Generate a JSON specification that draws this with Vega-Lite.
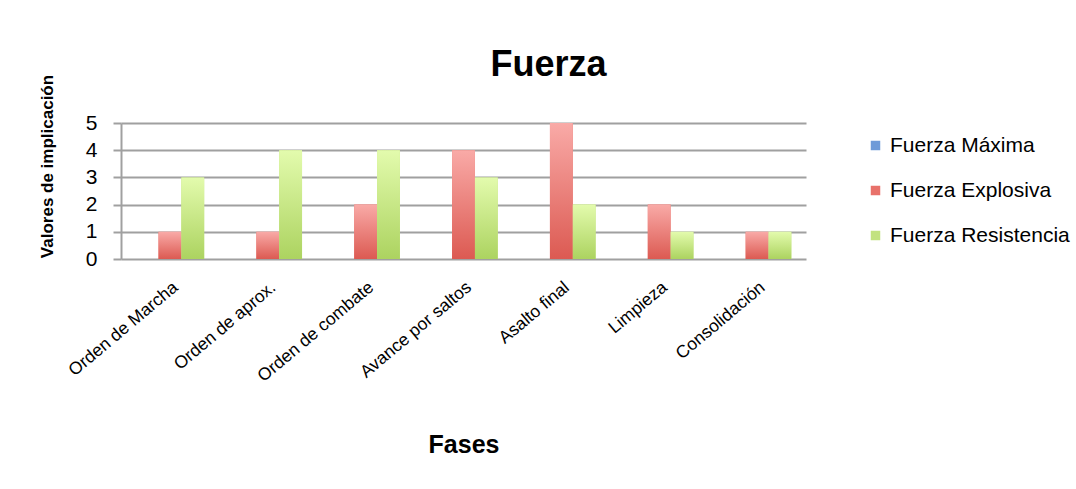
{
  "$schema": "https://vega.github.io/schema/vega-lite/v6.json",
  "autosize": "none",
  "width": 685,
  "height": 136,
  "padding": {"left": 121, "top": 123, "right": 270, "bottom": 230},
  "background": "white",
  "title": {
    "text": "Fuerza",
    "font": "Liberation Sans",
    "fontSize": 36,
    "fontWeight": "bold",
    "color": "black",
    "anchor": "middle",
    "dx": 85,
    "dy": 32,
    "offset": 22
  },
  "data": {
    "values": [
      {"fase": "Orden de Marcha", "serie": "Fuerza Máxima", "valor": 0},
      {"fase": "Orden de Marcha", "serie": "Fuerza Explosiva", "valor": 1},
      {"fase": "Orden de Marcha", "serie": "Fuerza Resistencia", "valor": 3},
      {"fase": "Orden de aprox.", "serie": "Fuerza Máxima", "valor": 0},
      {"fase": "Orden de aprox.", "serie": "Fuerza Explosiva", "valor": 1},
      {"fase": "Orden de aprox.", "serie": "Fuerza Resistencia", "valor": 4},
      {"fase": "Orden de combate", "serie": "Fuerza Máxima", "valor": 0},
      {"fase": "Orden de combate", "serie": "Fuerza Explosiva", "valor": 2},
      {"fase": "Orden de combate", "serie": "Fuerza Resistencia", "valor": 4},
      {"fase": "Avance por saltos", "serie": "Fuerza Máxima", "valor": 0},
      {"fase": "Avance por saltos", "serie": "Fuerza Explosiva", "valor": 4},
      {"fase": "Avance por saltos", "serie": "Fuerza Resistencia", "valor": 3},
      {"fase": "Asalto final", "serie": "Fuerza Máxima", "valor": 0},
      {"fase": "Asalto final", "serie": "Fuerza Explosiva", "valor": 5},
      {"fase": "Asalto final", "serie": "Fuerza Resistencia", "valor": 2},
      {"fase": "Limpieza", "serie": "Fuerza Máxima", "valor": 0},
      {"fase": "Limpieza", "serie": "Fuerza Explosiva", "valor": 2},
      {"fase": "Limpieza", "serie": "Fuerza Resistencia", "valor": 1},
      {"fase": "Consolidación", "serie": "Fuerza Máxima", "valor": 0},
      {"fase": "Consolidación", "serie": "Fuerza Explosiva", "valor": 1},
      {"fase": "Consolidación", "serie": "Fuerza Resistencia", "valor": 1}
    ]
  },
  "encoding": {
    "x": {
      "field": "fase",
      "type": "nominal",
      "sort": null,
      "scale": {"paddingInner": 0.3, "paddingOuter": 0.15},
      "axis": {
        "title": "Fases",
        "titleFont": "Liberation Sans",
        "titleFontSize": 25,
        "titleFontWeight": "bold",
        "titleColor": "black",
        "titleY": 193,
        "titleBaseline": "alphabetic",
        "labelAngle": -40,
        "labelFont": "Liberation Sans",
        "labelFontSize": 17.5,
        "labelColor": "black",
        "labelPadding": 19,
        "labelLimit": 0,
        "ticks": false,
        "domain": false
      }
    },
    "xOffset": {
      "field": "serie",
      "type": "nominal",
      "sort": ["Fuerza Máxima", "Fuerza Explosiva", "Fuerza Resistencia"]
    },
    "y": {
      "field": "valor",
      "type": "quantitative",
      "scale": {"domain": [0, 5], "nice": false},
      "axis": {
        "title": "Valores de implicación",
        "titleFont": "Liberation Sans",
        "titleFontSize": 17,
        "titleFontWeight": "bold",
        "titleColor": "black",
        "titleX": -74,
        "titleY": 43,
        "titleBaseline": "middle",
        "values": [0, 1, 2, 3, 4, 5],
        "format": "d",
        "labelFont": "Liberation Sans",
        "labelFontSize": 21,
        "labelColor": "black",
        "labelPadding": 16,
        "labelFlush": false,
        "labelOverlap": false,
        "tickSize": 8,
        "tickColor": "#a0a0a0",
        "tickWidth": 2,
        "domainColor": "#a0a0a0",
        "domainWidth": 2,
        "grid": true,
        "gridColor": "#a0a0a0",
        "gridWidth": 2
      }
    }
  },
  "layer": [
    {
      "mark": {"type": "bar"},
      "encoding": {
        "color": {
          "field": "serie",
          "type": "nominal",
          "sort": ["Fuerza Máxima", "Fuerza Explosiva", "Fuerza Resistencia"],
          "scale": {
            "domain": ["Fuerza Máxima", "Fuerza Explosiva", "Fuerza Resistencia"],
            "range": ["#6f9bd8", "#e8716a", "#c2e27f"]
          },
          "legend": {
            "title": null,
            "orient": "none",
            "legendX": 744,
            "legendY": 12,
            "symbolType": "square",
            "symbolSize": 90,
            "symbolStrokeWidth": 0,
            "symbolOpacity": 1,
            "labelFont": "Liberation Sans",
            "labelFontSize": 21,
            "labelColor": "black",
            "labelOffset": 4,
            "labelLimit": 0,
            "rowPadding": 23
          }
        }
      }
    },
    {
      "transform": [{"filter": "datum.serie === 'Fuerza Explosiva'"}],
      "mark": {
        "type": "bar",
        "color": {"gradient": "linear", "x1": 0, "y1": 0, "x2": 0, "y2": 1, "stops": [{"offset": 0, "color": "#f9aaa7"}, {"offset": 1, "color": "#dc5a52"}]}
      }
    },
    {
      "transform": [{"filter": "datum.serie === 'Fuerza Resistencia'"}],
      "mark": {
        "type": "bar",
        "color": {"gradient": "linear", "x1": 0, "y1": 0, "x2": 0, "y2": 1, "stops": [{"offset": 0, "color": "#e3fbad"}, {"offset": 1, "color": "#acd360"}]}
      }
    }
  ],
  "config": {
    "view": {"stroke": null},
    "axis": {"gridCap": "butt"}
  }
}
